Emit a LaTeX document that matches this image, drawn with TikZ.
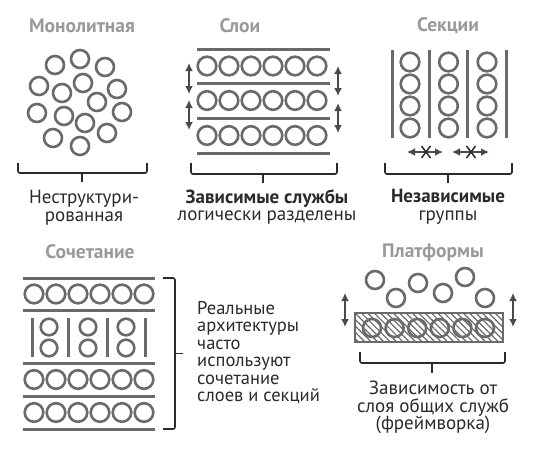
\documentclass[tikz,border=0pt]{standalone}
\usepackage{fontspec}
\setmainfont{PT Sans}
\usetikzlibrary{arrows.meta,patterns.meta}
\definecolor{lgray}{HTML}{6A6A6A}
\definecolor{tgray}{HTML}{999999}
\definecolor{dark}{HTML}{2A2A2A}
\tikzset{
  ring/.style={draw=lgray,line width=2.6pt},
  bar/.style={draw=lgray,line width=3pt},
  brace/.style={draw=dark,line width=1.6pt,rounded corners=2pt},
  title/.style={text=tgray,font=\fontsize{19.5}{19}\selectfont\bfseries},
  label/.style={text=dark,font=\fontsize{19}{17.5}\selectfont,align=center,inner sep=0pt},
  dblarrow/.style={draw=dark!85,line width=2pt,{Latex[length=8pt,width=8pt]}-{Latex[length=8pt,width=8pt]}},
}
\begin{document}
\begin{tikzpicture}[x=1pt,y=-1pt]
\useasboundingbox (0,0) rectangle (534,448);
% ---------------- Монолитная
\node[title] (t1) at (82,26) {Монолитная};
\foreach \x/\y in {55/65,80/59,105/67,39/86,83/83,62/93,117/89,97/102,37/113,64/116,122/112,85/123,53/138,107/133,80/146}
  \draw[ring] (\x,\y) circle (9);
\draw[brace] (18,163) -- (18,173) -- (147,173) -- (147,163);
\draw[brace] (82,173) -- (82,182);
\node[label,anchor=north] (l1) at (84,190) {Неструктури-\\рованная};
% ---------------- Слои
\node[title] (t2) at (240,26) {Слои};
\foreach \y in {49,83,118,153} \draw[bar] (197,\y) -- (330,\y);
\foreach \y in {66,100.5,135.5}
  \foreach \x in {207,229,251,273,295,317}
    \draw[ring] (\x,\y) circle (9.3);
\coordinate (la1) at (189,63); \coordinate (la2) at (189,94);
\coordinate (la3) at (189,100); \coordinate (la4) at (189,130);
\coordinate (ra1) at (338,66); \coordinate (ra2) at (338,96);
\coordinate (ra3) at (338,103); \coordinate (ra4) at (338,133);
\draw[dblarrow] (la1) -- (la2);
\draw[dblarrow] (la3) -- (la4);
\draw[dblarrow] (ra1) -- (ra2);
\draw[dblarrow] (ra3) -- (ra4);
\draw[brace] (191,163) -- (191,174) -- (337,174) -- (337,163);
\draw[brace] (263,174) -- (263,183);
\node[label,anchor=north] (l2) at (267,189) {\textbf{Зависимые службы}\\логически разделены};
% ---------------- Секции
\node[title] (t3) at (448,26) {Секции};
\foreach \x in {392,429.5,467.5,506} \draw[bar] (\x,50) -- (\x,138);
\foreach \x in {410,448.5,487}
  \foreach \y in {62,84,106,128}
    \draw[ring] (\x,\y) circle (9.3);
\coordinate (sa1) at (407,152); \coordinate (sa2) at (443,152);
\coordinate (sb1) at (452,152); \coordinate (sb2) at (489,152);
\draw[dblarrow,line width=1.6pt] (sa1) -- (sa2);
\draw[dblarrow,line width=1.6pt] (sb1) -- (sb2);
\foreach \c in {426,471}
  \draw[dark,line width=1.5pt] (\c-4.5,146) -- (\c+4.5,158) (\c+4.5,146) -- (\c-4.5,158);
\draw[brace] (385,163) -- (385,174) -- (512,174) -- (512,163);
\draw[brace] (448,174) -- (448,183);
\node[label,anchor=north] (l3) at (448,189) {\textbf{Независимые}\\группы};
% ---------------- Сочетание
\node[title] (t4) at (90,252) {Сочетание};
\foreach \y in {278,310,363,396,429} \draw[bar] (23,\y) -- (155,\y);
\foreach \y in {294,379.5,412.5}
  \foreach \x in {34,56,78,100,122,144}
    \draw[ring] (\x,\y) circle (9.3);
\foreach \x in {32,68,107,145} \draw[bar] (\x,318) -- (\x,357);
\foreach \x in {49,88,126}
  \foreach \y in {327,348}
    \draw[ring] (\x,\y) circle (8.3);
\draw[brace] (163,278) -- (175,278) -- (175,429) -- (163,429);
\draw[brace] (175,353.5) -- (183,353.5);
\node[label,align=left,anchor=north west,font=\fontsize{18.5}{17.5}\selectfont] (l4) at (197,301)
  {Реальные\\архитектуры\\часто\\используют\\сочетание\\слоев и секций};
% ---------------- Платформы
\node[title] (t5) at (433,253) {Платформы};
\foreach \x/\y in {375/280,396/298,418/283,443/293,465/277,485/298}
  \draw[ring] (\x,\y) circle (9);
\fill[pattern={Lines[angle=-45,distance=4.5pt,line width=1.2pt]},pattern color=lgray] (355,313) rectangle (503,342);
\draw[lgray,line width=2.6pt] (355,313) rectangle (503,342);
\foreach \i in {0,...,5}
  \draw[ring] (372+22.6*\i,328) circle (9);
\coordinate (pa1) at (345,293); \coordinate (pa2) at (345,327);
\coordinate (pb1) at (513,293); \coordinate (pb2) at (513,327);
\draw[dblarrow] (pa1) -- (pa2);
\draw[dblarrow] (pb1) -- (pb2);
\draw[brace] (360,352) -- (360,363) -- (505,363) -- (505,352);
\draw[brace] (432,363) -- (432,373);
\node[label,anchor=north] (l5) at (433,381) {Зависимость от\\слоя общих служб\\(фреймворка)};
\end{tikzpicture}
\end{document}
